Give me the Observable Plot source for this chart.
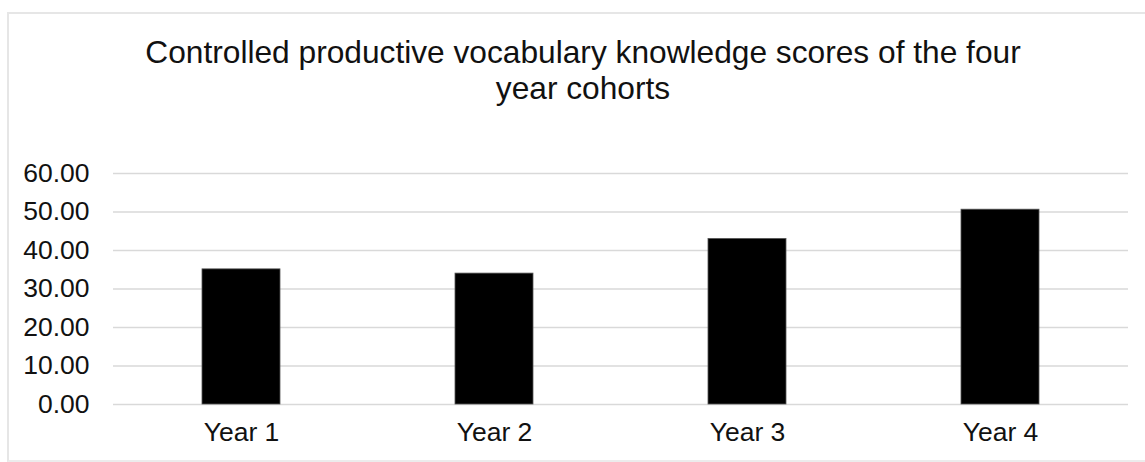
<!DOCTYPE html>
<html>
<head>
<meta charset="utf-8">
<script src="https://cdn.jsdelivr.net/npm/d3@7"></script>
<script src="https://cdn.jsdelivr.net/npm/@observablehq/plot@0.6"></script>
<style>
  html, body { margin: 0; padding: 0; background: #fff; overflow: hidden; }
  #frame {
    position: absolute; left: 7px; top: 12px; width: 1150px; height: 450px;
    border-left: 2px solid #e6e6e6; border-top: 2px solid #e6e6e6; border-bottom: 2px solid #ececec;
    box-sizing: border-box;
  }
  #title {
    position: absolute; left: 0; top: 34px; width: 1166px; text-align: center;
    font-family: "Liberation Sans", Arial, sans-serif; font-size: 31.7px; line-height: 36px; color: #111;
  }
  #chart { position: absolute; left: 0; top: 150px; }
</style>
</head>
<body>
<div id="frame"></div>
<div id="title">Controlled productive vocabulary knowledge scores of the four<br>year cohorts</div>
<div id="chart"></div>
<script>
// Mean scores per year cohort
const cohorts = ["Year 1", "Year 2", "Year 3", "Year 4"];
const scores = [35.1, 34.0, 43.0, 50.6];
const yTicks = [0, 10, 20, 30, 40, 50, 60];

const data = cohorts.map((c, i) => ({cohort: c, score: scores[i]}));

const chart = Plot.plot({
  width: 1145,
  height: 312,
  marginTop: 23,
  marginBottom: 58,
  marginLeft: 113,
  marginRight: 17,
  style: {fontFamily: "'Liberation Sans', Arial, sans-serif", fontSize: "26.5px", color: "#111", background: "transparent"},
  x: {domain: cohorts, paddingInner: 0.69, paddingOuter: 0.345, label: null},
  y: {domain: [0, 60], label: null},
  marks: [
    Plot.gridY(yTicks, {stroke: "#d9d9d9", strokeOpacity: 1, strokeWidth: 1.5}),
    Plot.barY(data, {x: "cohort", y: "score", fill: "#000", stroke: "#555", strokeWidth: 0.8}),
    Plot.axisY({ticks: yTicks, tickSize: 0, tickPadding: 24, tickFormat: d => d.toFixed(2), label: null}),
    Plot.axisX({tickSize: 0, tickPadding: 18, label: null})
  ]
});
document.getElementById("chart").appendChild(chart);
</script>
</body>
</html>
